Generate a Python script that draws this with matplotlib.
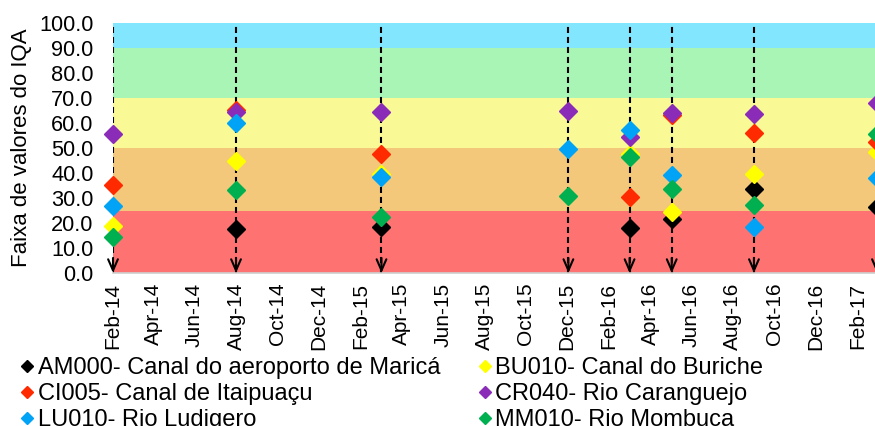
import numpy as np
import matplotlib
matplotlib.use("Agg")
import matplotlib.pyplot as plt
import matplotlib.dates as mdates

plt.rcParams["font.family"] = ["Liberation Sans", "DejaVu Sans"]

# sampling campaigns
dates = ["2014-02-01", "2014-08-01", "2015-03-03", "2015-12-03",
         "2016-03-02", "2016-05-03", "2016-09-01", "2017-03-01"]

stations = ["AM000- Canal do aeroporto de Maricá",
            "BU010- Canal do Buriche",
            "CI005- Canal de Itaipuaçu",
            "CR040- Rio Caranguejo",
            "LU010- Rio Ludigero",
            "MM010- Rio Mombuca"]

nan = np.nan
am000 = [nan, 17.6, 18.5, nan, 18.1, 21.5, 33.6, 26.5]
bu010 = [18.8, 44.8, 39.5, nan, 47.6, 24.5, 39.6, 48.5]
ci005 = [35.2, 65.3, 47.6, nan, 30.5, 63.1, 56.1, 52.5]
cr040 = [55.6, 64.4, 64.5, 65.0, 54.3, 63.9, 63.6, 67.9]
lu010 = [26.8, 60.1, 38.3, 49.5, 57.2, 39.2, 18.5, 37.9]
mm010 = [14.5, 33.2, 22.5, 30.8, 46.5, 33.5, 27.3, 55.6]

series = [am000, bu010, ci005, cr040, lu010, mm010]
colors = ["#000000", "#FFFF00", "#FF2A00", "#8B2CB8", "#00A3F5", "#00B050"]

# IQA class bands
band_edges = [0, 25, 50, 70, 90, 100]
band_colors = ["#FE7272", "#F3C87B", "#F9F996", "#A9F5B6", "#82E6FE"]

# axis ticks: every second month, Feb-14 .. Feb-17
tick_months = np.arange(np.datetime64("2014-02"), np.datetime64("2017-03"), 2)

x = mdates.date2num(np.array(dates, dtype="datetime64[D]"))

fig = plt.figure(figsize=(8.75, 4.26), dpi=100)
ax = fig.add_axes([113 / 875, 153 / 426, 787 / 875, 250 / 426])

for lo, hi, c in zip(band_edges[:-1], band_edges[1:], band_colors):
    ax.axhspan(lo, hi, color=c, lw=0, zorder=0)

for xi in x:
    ax.vlines(xi, 0, 100, colors="black", lw=1.5,
              linestyles=(0, (2.9, 1.9)), zorder=1)
    ax.annotate("", xy=(xi, 0), xytext=(xi, 6),
                arrowprops=dict(arrowstyle="->,head_length=0.8,head_width=0.35",
                                lw=1.5, color="black", shrinkA=0, shrinkB=0,
                                mutation_scale=10), zorder=1)

for vals, c, lab in zip(series, colors, stations):
    ax.plot(x, vals, ls="none", marker="D", ms=9.5, color=c,
            mec=c, clip_on=False, zorder=3, label=lab)

xmin = mdates.date2num(np.datetime64("2014-02-01"))
ax.set_xlim(xmin, xmin + 787 / 0.6797)
ax.set_ylim(0, 100)
ax.set_yticks(np.arange(0, 101, 10))
ax.yaxis.set_major_formatter(matplotlib.ticker.FormatStrFormatter("%.1f"))
ax.set_xticks(mdates.date2num(tick_months.astype("datetime64[D]")))
ax.xaxis.set_major_formatter(mdates.DateFormatter("%b-%y"))
ax.tick_params(axis="y", length=0, pad=14, labelsize=15.7)
ax.tick_params(axis="x", length=0, pad=7, labelsize=15, rotation=90)
ax.set_ylabel("Faixa de valores do IQA", fontsize=16, labelpad=5)

for s in ["top", "right", "left"]:
    ax.spines[s].set_visible(False)
ax.spines["bottom"].set_color("#D0D0D0")
ax.spines["bottom"].set_linewidth(1.2)

order = [0, 2, 4, 1, 3, 5]
leg_h = []
for i in order:
    lh, = ax.plot([], [], ls="none", marker="D", ms=6, color=colors[i])
    leg_h.append(lh)
fig.legend(leg_h, [stations[i] for i in order], ncol=2, loc="upper left",
           bbox_to_anchor=(20 / 875, 1 - 357 / 426), frameon=False,
           fontsize=17, borderpad=0, borderaxespad=0, handlelength=0.6,
           handletextpad=0.15, columnspacing=1.58, labelspacing=0.17)

fig.savefig("out.png", dpi=100)
